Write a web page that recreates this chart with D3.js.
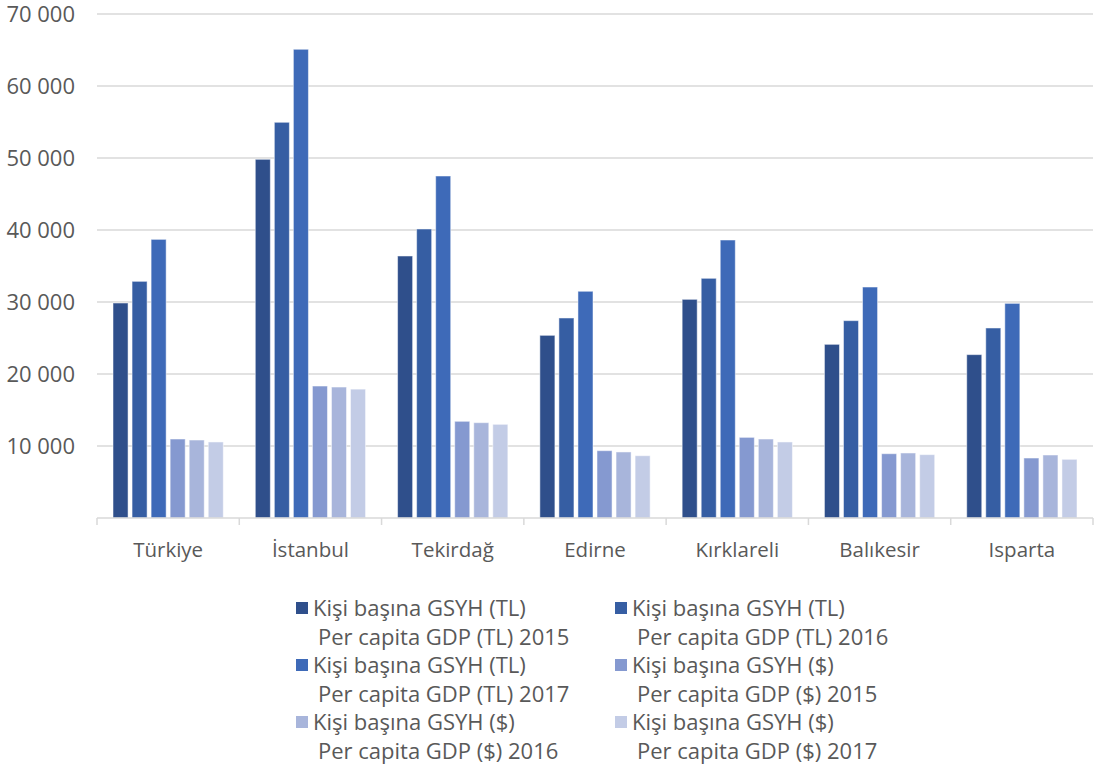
<!DOCTYPE html>
<html><head><meta charset="utf-8">
<script src="https://cdn.jsdelivr.net/npm/d3@7"></script>
<style>body{margin:0;background:#fff}svg{display:block}text{font-family:"Open Sans",Lato,sans-serif;fill:#595959}</style>
</head><body>
<svg id="c" width="1098" height="771"></svg>
<script>
const categories = ["Türkiye","İstanbul","Tekirdağ","Edirne","Kırklareli","Balıkesir","Isparta"];
const tl2015 = [29860, 49820, 36390, 25370, 30370, 24120, 22690];
const tl2016 = [32870, 54960, 40140, 27780, 33290, 27410, 26390];
const tl2017 = [38700, 65100, 47500, 31490, 38610, 32080, 29810];
const usd2015 = [10970, 18330, 13430, 9350, 11200, 8930, 8330];
const usd2016 = [10830, 18190, 13240, 9170, 10970, 9030, 8750];
const usd2017 = [10560, 17900, 13010, 8650, 10560, 8800, 8150];
const seriesNames = [
  ["Kişi başına GSYH (TL)", "Per capita GDP (TL) 2015"],
  ["Kişi başına GSYH (TL)", "Per capita GDP (TL) 2016"],
  ["Kişi başına GSYH (TL)", "Per capita GDP (TL) 2017"],
  ["Kişi başına GSYH ($)", "Per capita GDP ($) 2015"],
  ["Kişi başına GSYH ($)", "Per capita GDP ($) 2016"],
  ["Kişi başına GSYH ($)", "Per capita GDP ($) 2017"]
];
const yTicks = [10000, 20000, 30000, 40000, 50000, 60000, 70000];
const colors = ["#2F4F8B","#365EA3","#3E6AB8","#8599D0","#A8B5DB","#C3CCE6"];
const series = [tl2015, tl2016, tl2017, usd2015, usd2016, usd2017];

const svg = d3.select("#c");
const x0 = 97, x1 = 1093, yTop = 14, yBot = 518;
const y = d3.scaleLinear().domain([0, 70000]).range([yBot, yTop]);
const x = d3.scaleBand().domain(categories).range([x0, x1]).paddingInner(0.225).paddingOuter(0.1125);
const xs = d3.scaleBand().domain(d3.range(6)).range([0, x.bandwidth()]).paddingInner(0.21).paddingOuter(0);

svg.append("g").selectAll("line").data(yTicks).join("line")
  .attr("x1", x0).attr("x2", x1).attr("y1", d => y(d)).attr("y2", d => y(d))
  .attr("stroke", "#D9D9D9").attr("stroke-width", 1.5);

const fmt = d => d3.format(",")(d).replace(/,/g, " ");
svg.append("g").selectAll("text").data(yTicks).join("text")
  .attr("x", 75).attr("y", d => y(d)).attr("dy", "0.35em").attr("text-anchor", "end")
  .style("font-size", "22px").text(fmt);

const g = svg.append("g");
categories.forEach((c, ci) => {
  series.forEach((s, si) => {
    g.append("rect")
      .attr("x", x(c) + xs(si)).attr("width", xs.bandwidth())
      .attr("y", y(s[ci])).attr("height", y(0) - y(s[ci]))
      .attr("fill", colors[si]).attr("stroke", "#ffffff").attr("stroke-opacity", 0.5).attr("stroke-width", 1);
  });
});

svg.append("line").attr("x1", x0).attr("x2", x1).attr("y1", yBot).attr("y2", yBot)
  .attr("stroke", "#D9D9D9").attr("stroke-width", 1.5);
const step = (x1 - x0) / categories.length;
svg.append("g").selectAll("line").data(d3.range(categories.length + 1)).join("line")
  .attr("x1", i => x0 + i * step).attr("x2", i => x0 + i * step)
  .attr("y1", yBot).attr("y2", yBot + 7).attr("stroke", "#D9D9D9").attr("stroke-width", 1.5);
svg.append("g").selectAll("text").data(categories).join("text")
  .attr("x", d => x(d) + x.bandwidth() / 2).attr("y", 550).attr("dy", "0.35em")
  .attr("text-anchor", "middle").style("font-size", "20.5px").text(d => d);

const lg = svg.append("g");
seriesNames.forEach((n, i) => {
  const col = i % 2, row = Math.floor(i / 2);
  const lx = col === 0 ? 296 : 615;
  const ly = 608 + row * 57;
  lg.append("rect").attr("x", lx).attr("y", ly - 6).attr("width", 12).attr("height", 12).attr("fill", colors[i]);
  lg.append("text").attr("x", lx + 17).attr("y", ly).attr("dy", "0.35em").style("font-size", "22px").text(n[0]);
  lg.append("text").attr("x", lx + 22).attr("y", ly + 29).attr("dy", "0.35em").style("font-size", "22px").text(n[1]);
});
</script>
</body></html>
